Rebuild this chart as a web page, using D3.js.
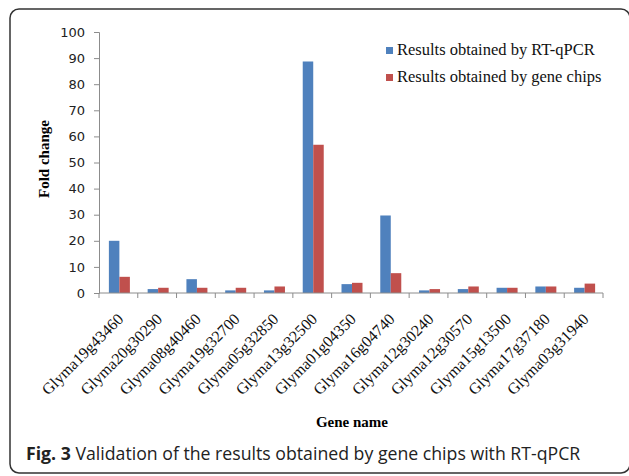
<!DOCTYPE html>
<html>
<head>
<meta charset="utf-8">
<script src="https://cdn.jsdelivr.net/npm/d3@7"></script>
<style>
  body { margin: 0; background: #fff; }
  svg { display: block; }
</style>
</head>
<body>
<svg id="chart" width="629" height="476"></svg>
<script>
// gene names along the x axis
const genes = ["Glyma19g43460", "Glyma20g30290", "Glyma08g40460", "Glyma19g32700",
  "Glyma05g32850", "Glyma13g32500", "Glyma01g04350", "Glyma16g04740", "Glyma12g30240",
  "Glyma12g30570", "Glyma15g13500", "Glyma17g37180", "Glyma03g31940"];

// fold change values
const rtqpcr = [20, 1.5, 5.3, 1, 1, 88.7, 3.4, 29.7, 1, 1.5, 2, 2.5, 2];
const geneChips = [6.2, 2, 2, 2, 2.5, 56.8, 3.9, 7.6, 1.5, 2.5, 2, 2.5, 3.6];

const seriesNames = ["Results obtained by RT-qPCR", "Results obtained by gene chips"];
const seriesColors = ["#4f81bd", "#c0504d"];
const yTicks = [0, 10, 20, 30, 40, 50, 60, 70, 80, 90, 100];

const svg = d3.select("#chart");
const margin = { top: 32, right: 26, bottom: 183, left: 99 };
const width = 629, height = 476;

// frame around the figure
svg.append("rect")
  .attr("x", 10).attr("y", 9)
  .attr("width", 620).attr("height", 464)
  .attr("rx", 9)
  .attr("fill", "none")
  .attr("stroke", "#333")
  .attr("stroke-width", 1.5);

const x = d3.scaleBand()
  .domain(genes)
  .range([margin.left, width - margin.right]);

const bw = x.bandwidth();
const x1 = d3.scaleBand()
  .domain([0, 1])
  .range([bw / 2 - 9.5, bw / 2 + 11.5]);

const y = d3.scaleLinear()
  .domain([0, 100])
  .range([height - margin.bottom, margin.top]);

const axisColor = "#8c8c8c";

// y axis
const gy = svg.append("g")
  .attr("transform", "translate(" + margin.left + ",0)")
  .call(d3.axisLeft(y).tickValues(yTicks).tickSize(5).tickPadding(9));
gy.select(".domain").attr("stroke", axisColor);
gy.selectAll(".tick line").attr("stroke", axisColor);
gy.selectAll(".tick text")
  .attr("font-family", "DejaVu Sans")
  .attr("font-size", 13)
  .attr("fill", "#222");

// bars
const rows = genes.map((g, i) => ({ gene: g, values: [rtqpcr[i], geneChips[i]] }));
const groups = svg.selectAll(".group")
  .data(rows)
  .enter()
  .append("g")
  .attr("transform", (d) => "translate(" + x(d.gene) + ",0)");

groups.selectAll("rect")
  .data((d) => d.values.map((v, k) => ({ k: k, v: v })))
  .enter()
  .append("rect")
  .attr("x", (d) => x1(d.k))
  .attr("width", x1.bandwidth())
  .attr("y", (d) => y(d.v))
  .attr("height", (d) => y(0) - y(d.v))
  .attr("fill", (d) => seriesColors[d.k]);

// x axis with ticks between categories
const gx = svg.append("g").attr("transform", "translate(0," + y(0) + ")");
gx.append("line")
  .attr("x1", margin.left).attr("x2", width - margin.right)
  .attr("stroke", axisColor);
gx.selectAll(".sep")
  .data(genes.concat(["end"]))
  .enter()
  .append("line")
  .attr("x1", (d, i) => margin.left + i * bw)
  .attr("x2", (d, i) => margin.left + i * bw)
  .attr("y1", 0).attr("y2", 5)
  .attr("stroke", axisColor);

gx.selectAll(".lbl")
  .data(genes)
  .enter()
  .append("text")
  .attr("transform", (d) => "translate(" + (x(d) + bw / 2 + 6) + ",27) rotate(-45)")
  .attr("text-anchor", "end")
  .attr("font-family", "Liberation Serif")
  .attr("font-size", 16)
  .attr("fill", "#111")
  .text((d) => d);

// axis titles
svg.append("text")
  .attr("transform", "translate(49,159) rotate(-90)")
  .attr("text-anchor", "middle")
  .attr("font-family", "Liberation Serif")
  .attr("font-weight", "bold")
  .attr("font-size", 15)
  .text("Fold change");

svg.append("text")
  .attr("x", 352).attr("y", 427)
  .attr("text-anchor", "middle")
  .attr("font-family", "Liberation Serif")
  .attr("font-weight", "bold")
  .attr("font-size", 15)
  .text("Gene name");

// legend
const legend = svg.append("g").attr("transform", "translate(386,47)");
seriesNames.forEach((name, i) => {
  legend.append("rect")
    .attr("x", 0).attr("y", i * 27)
    .attr("width", 7).attr("height", 7)
    .attr("fill", seriesColors[i]);
  legend.append("text")
    .attr("x", 11).attr("y", i * 27 + 8)
    .attr("font-family", "Liberation Serif")
    .attr("font-size", 16.5)
    .attr("fill", "#111")
    .text(name);
});

// caption
const cap = svg.append("text")
  .attr("x", 26).attr("y", 460)
  .attr("font-family", "Open Sans")
  .attr("font-size", 17.7)
  .attr("fill", "#222");
cap.append("tspan").attr("font-weight", "bold").text("Fig. 3");
cap.append("tspan").text(" Validation of the results obtained by gene chips with RT-qPCR");
</script>
</body>
</html>
